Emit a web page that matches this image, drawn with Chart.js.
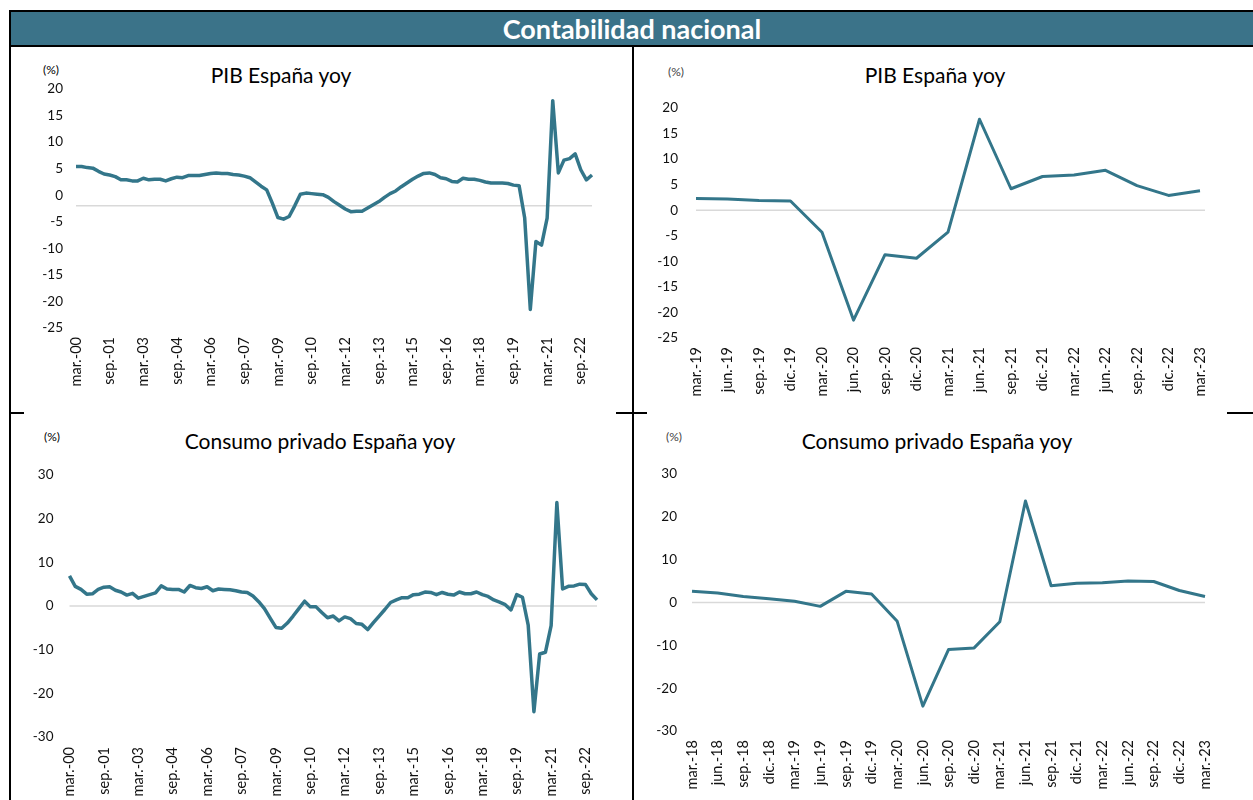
<!DOCTYPE html>
<html><head><meta charset="utf-8">
<script src="https://cdn.jsdelivr.net/npm/chart.js@4.4.0/dist/chart.umd.min.js"></script>
<style>
body{margin:0;width:1253px;height:800px;position:relative;overflow:hidden;background:#fff;font-family:Lato,"Open Sans",sans-serif;}
#header{position:absolute;left:9px;top:10px;width:1246px;height:37px;background:#3b7389;border:2px solid #000;box-sizing:border-box;color:#fff;font-weight:bold;font-size:27px;text-align:center;line-height:33px;}
.ln{position:absolute;background:#000;}
.title{position:absolute;font-size:21px;color:#000;transform:translateX(-50%);white-space:nowrap;line-height:24px;}
.pct{position:absolute;font-size:12px;color:#000;transform:translateX(-50%);line-height:14px;}
canvas{position:absolute;}
</style>
</head><body>
<div id="header">Contabilidad nacional</div>
<div class="ln" style="left:9px;top:10px;width:2px;height:790px"></div>
<div class="ln" style="left:632px;top:46px;width:2px;height:754px"></div>
<div class="ln" style="left:9px;top:412px;width:15px;height:2px"></div>
<div class="ln" style="left:616px;top:412px;width:31px;height:2px"></div>
<div class="ln" style="left:1227px;top:412px;width:26px;height:2px"></div>

<div class="pct" style="left:51px;top:63px">(%)</div>
<div class="title" style="left:281px;top:63px">PIB España yoy</div>
<div class="pct" style="left:676px;top:65px;color:#444">(%)</div>
<div class="title" style="left:935px;top:63px">PIB España yoy</div>
<div class="pct" style="left:52px;top:430px">(%)</div>
<div class="title" style="left:320px;top:429px">Consumo privado España yoy</div>
<div class="pct" style="left:674px;top:430px;color:#444">(%)</div>
<div class="title" style="left:937px;top:429px">Consumo privado España yoy</div>

<canvas id="c1" width="622" height="364" style="left:10px;top:48px"></canvas>
<canvas id="c2" width="619" height="364" style="left:634px;top:48px"></canvas>
<canvas id="c3" width="622" height="386" style="left:10px;top:414px"></canvas>
<canvas id="c4" width="619" height="386" style="left:634px;top:414px"></canvas>

<script>
// ---- categories / tick labels ----
const quarterNames = ["mar.", "jun.", "sep.", "dic."];
const longYears = ["00","01","02","03","04","05","06","07","08","09","10","11","12","13","14","15","16","17","18","19","20","21","22"];
const longCategories = [];
longYears.forEach(y => quarterNames.forEach(q => longCategories.push(q + "-" + y)));
longCategories.push("mar.-23");

const pibShortCategories = ["mar.-19","jun.-19","sep.-19","dic.-19","mar.-20","jun.-20","sep.-20","dic.-20","mar.-21","jun.-21","sep.-21","dic.-21","mar.-22","jun.-22","sep.-22","dic.-22","mar.-23"];
const consShortCategories = ["mar.-18","jun.-18","sep.-18","dic.-18","mar.-19","jun.-19","sep.-19","dic.-19","mar.-20","jun.-20","sep.-20","dic.-20","mar.-21","jun.-21","sep.-21","dic.-21","mar.-22","jun.-22","sep.-22","dic.-22","mar.-23"];

// ---- series values (% yoy) ----
const pibLong = [
 5.4,5.4,5.2,5.1, 4.5,4.0,3.8,3.5, 2.9,2.9,2.7,2.7, 3.2,2.9,3.0,3.0, 2.7,3.1,3.4,3.3,
 3.7,3.7,3.7,3.9, 4.1,4.2,4.1,4.1, 3.9,3.8,3.6,3.3, 2.5,1.7,1.0,-1.5, -4.2,-4.5,-4.0,-2.0,
 0.2,0.4,0.3,0.2, 0.1,-0.4,-1.2,-1.9, -2.6,-3.1,-3.0,-3.0, -2.4,-1.8,-1.2,-0.4, 0.3,0.8,1.6,2.3,
 3.0,3.6,4.1,4.2, 3.9,3.3,3.1,2.6, 2.5,3.2,3.0,3.0, 2.8,2.5,2.3,2.3, 2.3,2.2,1.9,1.8,
 -4.3,-21.5,-8.7,-9.4, -4.3,17.8,4.2,6.6, 6.9,7.8,4.8,2.9, 3.8
];
const consLong = [
 6.9,4.5,3.8,2.7, 2.8,3.8,4.3,4.4, 3.6,3.2,2.5,2.9, 1.8,2.2,2.6,3.0, 4.6,3.9,3.8,3.8,
 3.2,4.7,4.2,4.0, 4.4,3.5,3.9,3.8, 3.7,3.5,3.2,3.1, 2.3,1.0,-0.6,-2.8, -4.9,-5.1,-3.9,-2.3,
 -0.6,1.1,-0.2,-0.2, -1.5,-2.7,-2.3,-3.4, -2.5,-2.9,-4.0,-4.2, -5.4,-3.8,-2.3,-0.8, 0.8,1.4,1.9,1.9,
 2.6,2.7,3.2,3.1, 2.6,3.1,2.7,2.5, 3.2,2.8,2.8,3.2, 2.6,2.2,1.4,0.9, 0.3,-0.9,2.6,2.0,
 -4.4,-24.2,-11.0,-10.6, -4.5,23.7,3.9,4.5, 4.6,5.0,4.9,2.8, 1.4
];
const pibShort = [2.3,2.2,1.9,1.8,-4.3,-21.5,-8.7,-9.4,-4.3,17.8,4.2,6.6,6.9,7.8,4.8,2.9,3.8];
const consShort = [2.6,2.2,1.4,0.9,0.3,-0.9,2.6,2.0,-4.4,-24.2,-11.0,-10.6,-4.5,23.7,3.9,4.5,4.6,5.0,4.9,2.8,1.4];

// ---- axis settings ----
const pibTicks = {min:-25, max:20, step:5};
const consTicks = {min:-30, max:30, step:10};

const LINE = '#33768a';

const baseLine = {
  id: 'baseLine',
  beforeDatasetsDraw(chart, args, o) {
    const ctx = chart.ctx, ys = chart.scales.y;
    const y = ys.getPixelForValue(o.value);
    const {left, right} = chart.chartArea;
    ctx.save();
    ctx.strokeStyle = '#d9d9d9';
    ctx.lineWidth = 1.5;
    ctx.beginPath(); ctx.moveTo(left, y); ctx.lineTo(right + (o.extra || 0), y); ctx.stroke();
    ctx.restore();
  }
};

function make(id, labels, values, t, L) {
  return new Chart(document.getElementById(id), {
    type: 'line',
    data: { labels: labels, datasets: [{ data: values, borderColor: LINE, borderWidth: L.bw, pointRadius: 0, tension: 0, borderJoinStyle: 'round', borderCapStyle: 'butt', fill: false }] },
    options: {
      responsive: false, animation: false, events: [],
      layout: { padding: { left: 0, right: L.right, top: L.top, bottom: 0 } },
      plugins: { legend: { display: false }, tooltip: { enabled: false }, baseLine: { value: L.base, extra: L.extra || 0 } },
      scales: {
        x: {
          offset: false,
          grid: { display: false, drawTicks: false }, border: { display: false },
          ticks: {
            autoSkip: false, maxRotation: 90, minRotation: 90, padding: L.xpad,
            color: '#111', font: { family: 'Lato, "Open Sans", sans-serif', size: L.xfs },
            callback: function (v, i) { return (i % L.every === 0) ? labels[i] : ''; }
          },
          afterFit: s => { s.height = L.xh; }
        },
        y: {
          min: t.min, max: t.max,
          grid: { display: false, drawTicks: false }, border: { display: false },
          ticks: { stepSize: t.step, padding: L.ypad, color: '#111', font: { family: 'Lato, "Open Sans", sans-serif', size: L.yfs } },
          afterFit: s => { s.width = L.yw; }
        }
      }
    },
    plugins: [baseLine]
  });
}

make('c1', longCategories, pibLong, pibTicks, {bw:3.5, right:40, top:41, xh:84, yw:66, ypad:13, xpad:9, xfs:14.5, yfs:13.5, every:6, base:-2});
make('c2', pibShortCategories, pibShort, pibTicks, {bw:3, right:53, top:60, xh:74, yw:62, ypad:18, xpad:9, xfs:14.5, yfs:13.5, every:1, base:0, extra:5});
make('c3', longCategories, consLong, consTicks, {bw:3.5, right:35, top:61, xh:63, yw:59.5, ypad:16, xpad:10, xfs:14.5, yfs:13.5, every:6, base:0});
make('c4', consShortCategories, consShort, consTicks, {bw:3, right:48, top:60, xh:69, yw:58, ypad:15, xpad:9, xfs:14.5, yfs:13.5, every:1, base:0});
</script>
</body></html>
